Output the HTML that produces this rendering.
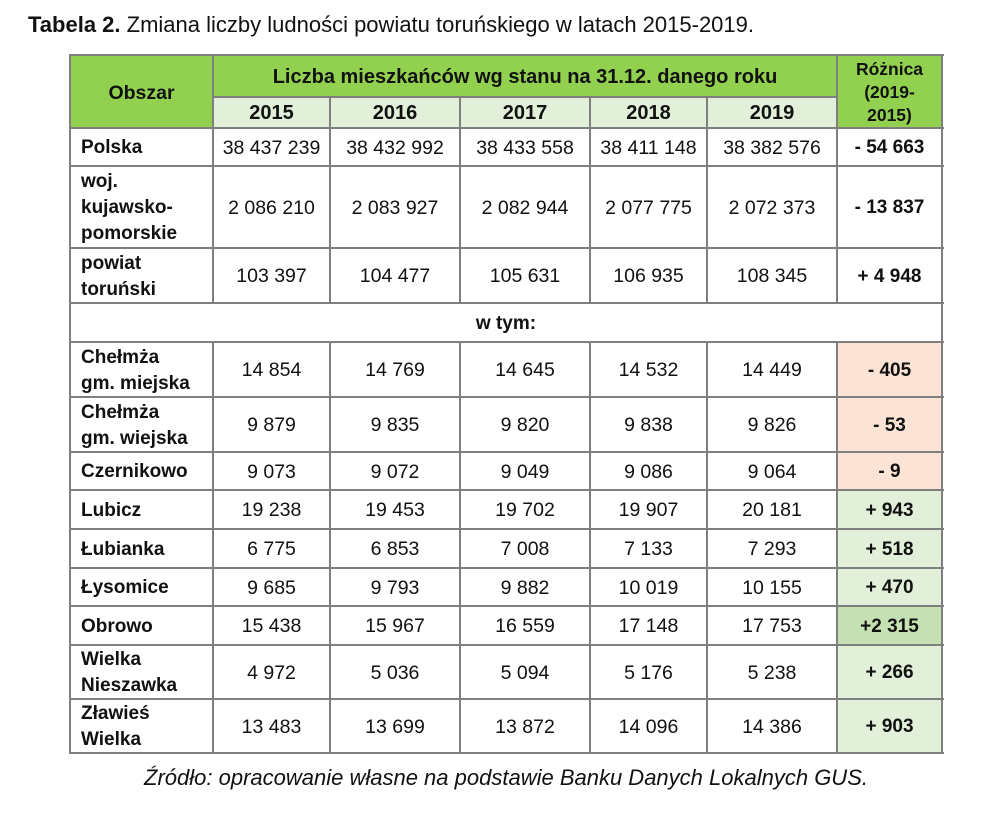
<!DOCTYPE html>
<html>
<head>
<meta charset="utf-8">
<style>
  html,body{margin:0;padding:0;background:#fff;}
  body{width:987px;height:821px;position:relative;overflow:hidden;font-family:"Liberation Sans",Arial,sans-serif;color:#111;}
  .c{position:absolute;display:flex;align-items:center;justify-content:center;text-align:center;box-sizing:border-box;padding-top:2px;}
  .l{justify-content:flex-start;text-align:left;padding-left:11px;}
  .b{font-weight:bold;}
  .n{font-size:19.5px;}
  .lab{font-size:19px;font-weight:bold;line-height:26px;}
  .h{position:absolute;height:2px;background:#7f7f7f;}
  .v{position:absolute;width:2px;background:#7f7f7f;}
  .g{background:#92d050;}
  .lg{background:#e2efd9;}
  .pk{background:#fbe4d5;}
  .dg{background:#c5e0b3;}
</style>
</head>
<body>
<div style="position:absolute;left:28px;top:12px;font-size:22px;white-space:nowrap;"><b>Tabela 2.</b> Zmiana liczby ludności powiatu toruńskiego w latach 2015-2019.</div>

<!-- header backgrounds -->
<div class="c g lab" style="left:70px;top:55px;width:143px;height:73px;font-size:19.5px;">Obszar</div>
<div class="c g b" style="left:213px;top:55px;width:624px;height:42px;font-size:20px;">Liczba mieszkańców wg stanu na 31.12. danego roku</div>
<div class="c lg b" style="left:213px;top:97px;width:117px;height:31px;font-size:20px;">2015</div>
<div class="c lg b" style="left:330px;top:97px;width:130px;height:31px;font-size:20px;">2016</div>
<div class="c lg b" style="left:460px;top:97px;width:130px;height:31px;font-size:20px;">2017</div>
<div class="c lg b" style="left:590px;top:97px;width:117px;height:31px;font-size:20px;">2018</div>
<div class="c lg b" style="left:707px;top:97px;width:130px;height:31px;font-size:20px;">2019</div>
<div class="c g b" style="left:837px;top:55px;width:105px;height:73px;font-size:17.5px;line-height:23px;">Różnica<br>(2019-<br>2015)</div>

<!-- Polska 128-166 -->
<div class="c l lab" style="left:70px;top:128px;width:143px;height:38px;">Polska</div>
<div class="c n" style="left:213px;top:128px;width:117px;height:38px;">38 437 239</div>
<div class="c n" style="left:330px;top:128px;width:130px;height:38px;">38 432 992</div>
<div class="c n" style="left:460px;top:128px;width:130px;height:38px;">38 433 558</div>
<div class="c n" style="left:590px;top:128px;width:117px;height:38px;">38 411 148</div>
<div class="c n" style="left:707px;top:128px;width:130px;height:38px;">38 382 576</div>
<div class="c lab" style="left:837px;top:128px;width:105px;height:38px;">- 54 663</div>

<!-- woj 166-248 -->
<div class="c l lab" style="left:70px;top:166px;width:143px;height:82px;">woj.<br>kujawsko-<br>pomorskie</div>
<div class="c n" style="left:213px;top:166px;width:117px;height:82px;">2 086 210</div>
<div class="c n" style="left:330px;top:166px;width:130px;height:82px;">2 083 927</div>
<div class="c n" style="left:460px;top:166px;width:130px;height:82px;">2 082 944</div>
<div class="c n" style="left:590px;top:166px;width:117px;height:82px;">2 077 775</div>
<div class="c n" style="left:707px;top:166px;width:130px;height:82px;">2 072 373</div>
<div class="c lab" style="left:837px;top:166px;width:105px;height:82px;">- 13 837</div>

<!-- powiat 248-303 -->
<div class="c l lab" style="left:70px;top:248px;width:143px;height:55px;">powiat<br>toruński</div>
<div class="c n" style="left:213px;top:248px;width:117px;height:55px;">103 397</div>
<div class="c n" style="left:330px;top:248px;width:130px;height:55px;">104 477</div>
<div class="c n" style="left:460px;top:248px;width:130px;height:55px;">105 631</div>
<div class="c n" style="left:590px;top:248px;width:117px;height:55px;">106 935</div>
<div class="c n" style="left:707px;top:248px;width:130px;height:55px;">108 345</div>
<div class="c lab" style="left:837px;top:248px;width:105px;height:55px;">+ 4 948</div>

<!-- w tym 303-342 -->
<div class="c lab" style="left:70px;top:303px;width:872px;height:39px;">w tym:</div>

<!-- Chełmża miejska 342-397 -->
<div class="c l lab" style="left:70px;top:342px;width:143px;height:55px;">Chełmża<br>gm. miejska</div>
<div class="c n" style="left:213px;top:342px;width:117px;height:55px;">14 854</div>
<div class="c n" style="left:330px;top:342px;width:130px;height:55px;">14 769</div>
<div class="c n" style="left:460px;top:342px;width:130px;height:55px;">14 645</div>
<div class="c n" style="left:590px;top:342px;width:117px;height:55px;">14 532</div>
<div class="c n" style="left:707px;top:342px;width:130px;height:55px;">14 449</div>
<div class="c lab pk" style="left:837px;top:342px;width:105px;height:55px;">- 405</div>

<!-- Chełmża wiejska 397-452 -->
<div class="c l lab" style="left:70px;top:397px;width:143px;height:55px;">Chełmża<br>gm. wiejska</div>
<div class="c n" style="left:213px;top:397px;width:117px;height:55px;">9 879</div>
<div class="c n" style="left:330px;top:397px;width:130px;height:55px;">9 835</div>
<div class="c n" style="left:460px;top:397px;width:130px;height:55px;">9 820</div>
<div class="c n" style="left:590px;top:397px;width:117px;height:55px;">9 838</div>
<div class="c n" style="left:707px;top:397px;width:130px;height:55px;">9 826</div>
<div class="c lab pk" style="left:837px;top:397px;width:105px;height:55px;">- 53</div>

<!-- Czernikowo 452-490 -->
<div class="c l lab" style="left:70px;top:452px;width:143px;height:38px;">Czernikowo</div>
<div class="c n" style="left:213px;top:452px;width:117px;height:38px;">9 073</div>
<div class="c n" style="left:330px;top:452px;width:130px;height:38px;">9 072</div>
<div class="c n" style="left:460px;top:452px;width:130px;height:38px;">9 049</div>
<div class="c n" style="left:590px;top:452px;width:117px;height:38px;">9 086</div>
<div class="c n" style="left:707px;top:452px;width:130px;height:38px;">9 064</div>
<div class="c lab pk" style="left:837px;top:452px;width:105px;height:38px;">- 9</div>

<!-- Lubicz 490-529 -->
<div class="c l lab" style="left:70px;top:490px;width:143px;height:39px;">Lubicz</div>
<div class="c n" style="left:213px;top:490px;width:117px;height:39px;">19 238</div>
<div class="c n" style="left:330px;top:490px;width:130px;height:39px;">19 453</div>
<div class="c n" style="left:460px;top:490px;width:130px;height:39px;">19 702</div>
<div class="c n" style="left:590px;top:490px;width:117px;height:39px;">19 907</div>
<div class="c n" style="left:707px;top:490px;width:130px;height:39px;">20 181</div>
<div class="c lab lg" style="left:837px;top:490px;width:105px;height:39px;">+ 943</div>

<!-- Łubianka 529-568 -->
<div class="c l lab" style="left:70px;top:529px;width:143px;height:39px;">Łubianka</div>
<div class="c n" style="left:213px;top:529px;width:117px;height:39px;">6 775</div>
<div class="c n" style="left:330px;top:529px;width:130px;height:39px;">6 853</div>
<div class="c n" style="left:460px;top:529px;width:130px;height:39px;">7 008</div>
<div class="c n" style="left:590px;top:529px;width:117px;height:39px;">7 133</div>
<div class="c n" style="left:707px;top:529px;width:130px;height:39px;">7 293</div>
<div class="c lab lg" style="left:837px;top:529px;width:105px;height:39px;">+ 518</div>

<!-- Łysomice 568-606 -->
<div class="c l lab" style="left:70px;top:568px;width:143px;height:38px;">Łysomice</div>
<div class="c n" style="left:213px;top:568px;width:117px;height:38px;">9 685</div>
<div class="c n" style="left:330px;top:568px;width:130px;height:38px;">9 793</div>
<div class="c n" style="left:460px;top:568px;width:130px;height:38px;">9 882</div>
<div class="c n" style="left:590px;top:568px;width:117px;height:38px;">10 019</div>
<div class="c n" style="left:707px;top:568px;width:130px;height:38px;">10 155</div>
<div class="c lab lg" style="left:837px;top:568px;width:105px;height:38px;">+ 470</div>

<!-- Obrowo 606-645 -->
<div class="c l lab" style="left:70px;top:606px;width:143px;height:39px;">Obrowo</div>
<div class="c n" style="left:213px;top:606px;width:117px;height:39px;">15 438</div>
<div class="c n" style="left:330px;top:606px;width:130px;height:39px;">15 967</div>
<div class="c n" style="left:460px;top:606px;width:130px;height:39px;">16 559</div>
<div class="c n" style="left:590px;top:606px;width:117px;height:39px;">17 148</div>
<div class="c n" style="left:707px;top:606px;width:130px;height:39px;">17 753</div>
<div class="c lab dg" style="left:837px;top:606px;width:105px;height:39px;">+2 315</div>

<!-- Wielka Nieszawka 645-699 -->
<div class="c l lab" style="left:70px;top:645px;width:143px;height:54px;">Wielka<br>Nieszawka</div>
<div class="c n" style="left:213px;top:645px;width:117px;height:54px;">4 972</div>
<div class="c n" style="left:330px;top:645px;width:130px;height:54px;">5 036</div>
<div class="c n" style="left:460px;top:645px;width:130px;height:54px;">5 094</div>
<div class="c n" style="left:590px;top:645px;width:117px;height:54px;">5 176</div>
<div class="c n" style="left:707px;top:645px;width:130px;height:54px;">5 238</div>
<div class="c lab lg" style="left:837px;top:645px;width:105px;height:54px;">+ 266</div>

<!-- Zławieś Wielka 699-753 -->
<div class="c l lab" style="left:70px;top:699px;width:143px;height:54px;">Zławieś<br>Wielka</div>
<div class="c n" style="left:213px;top:699px;width:117px;height:54px;">13 483</div>
<div class="c n" style="left:330px;top:699px;width:130px;height:54px;">13 699</div>
<div class="c n" style="left:460px;top:699px;width:130px;height:54px;">13 872</div>
<div class="c n" style="left:590px;top:699px;width:117px;height:54px;">14 096</div>
<div class="c n" style="left:707px;top:699px;width:130px;height:54px;">14 386</div>
<div class="c lab lg" style="left:837px;top:699px;width:105px;height:54px;">+ 903</div>

<!-- grid lines horizontal -->
<div class="h" style="left:69px;width:875px;top:54px;"></div>
<div class="h" style="left:212px;width:626px;top:96px;"></div>
<div class="h" style="left:69px;width:875px;top:127px;"></div>
<div class="h" style="left:69px;width:875px;top:165px;"></div>
<div class="h" style="left:69px;width:875px;top:247px;"></div>
<div class="h" style="left:69px;width:875px;top:302px;"></div>
<div class="h" style="left:69px;width:875px;top:341px;"></div>
<div class="h" style="left:69px;width:875px;top:396px;"></div>
<div class="h" style="left:69px;width:875px;top:451px;"></div>
<div class="h" style="left:69px;width:875px;top:489px;"></div>
<div class="h" style="left:69px;width:875px;top:528px;"></div>
<div class="h" style="left:69px;width:875px;top:567px;"></div>
<div class="h" style="left:69px;width:875px;top:605px;"></div>
<div class="h" style="left:69px;width:875px;top:644px;"></div>
<div class="h" style="left:69px;width:875px;top:698px;"></div>
<div class="h" style="left:69px;width:875px;top:752px;"></div>

<!-- grid lines vertical -->
<div class="v" style="left:69px;top:54px;height:700px;"></div>
<div class="v" style="left:941px;top:54px;height:700px;"></div>
<div class="v" style="left:212px;top:54px;height:249px;"></div>
<div class="v" style="left:212px;top:341px;height:413px;"></div>
<div class="v" style="left:836px;top:54px;height:249px;"></div>
<div class="v" style="left:836px;top:341px;height:413px;"></div>
<div class="v" style="left:329px;top:96px;height:207px;"></div>
<div class="v" style="left:329px;top:341px;height:413px;"></div>
<div class="v" style="left:459px;top:96px;height:207px;"></div>
<div class="v" style="left:459px;top:341px;height:413px;"></div>
<div class="v" style="left:589px;top:96px;height:207px;"></div>
<div class="v" style="left:589px;top:341px;height:413px;"></div>
<div class="v" style="left:706px;top:96px;height:207px;"></div>
<div class="v" style="left:706px;top:341px;height:413px;"></div>

<!-- source -->
<div style="position:absolute;left:0;width:1012px;top:765px;text-align:center;font-size:22px;font-style:italic;white-space:nowrap;">Źródło: opracowanie własne na podstawie Banku Danych Lokalnych GUS.</div>
</body>
</html>
